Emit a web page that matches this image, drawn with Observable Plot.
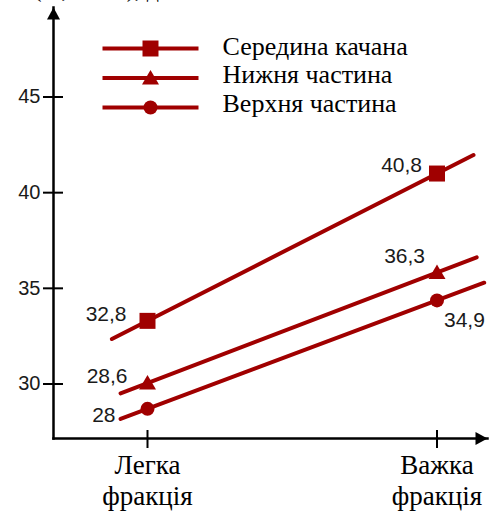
<!DOCTYPE html>
<html>
<head>
<meta charset="utf-8">
<script src="https://cdn.jsdelivr.net/npm/d3@7"></script>
<script src="https://cdn.jsdelivr.net/npm/@observablehq/plot@0.6"></script>
<style>
  body { margin: 0; background: #fff; }
  #chart svg { display: block; }
</style>
</head>
<body>
<div id="chart"></div>
<script>
// ---- data ----
const categories = ["Легка\nфракція", "Важка\nфракція"];
const seriesNames = ["Середина качана", "Нижня частина", "Верхня частина"];
const middleValues = [33.3, 41.0];
const lowerValues = [30.05, 35.83];
const upperValues = [28.7, 34.37];
const middleLabels = ["32,8", "40,8"];
const lowerLabels = ["28,6", "36,3"];
const upperLabels = ["28", "34,9"];
const yTicks = [30, 35, 40, 45];
const axisTitle = "(%, мг/кг), дм";

const seriesValues = [middleValues, lowerValues, upperValues];
const seriesLabels = [middleLabels, lowerLabels, upperLabels];

// ---- style ----
const W = 491, H = 516, color = "#a00000";
const M = {top: 7, right: 4, bottom: 78, left: 53};
const lineExtent = [[-0.123, 1.126], [-0.093, 1.137], [-0.093, 1.163]];
const labelPlacement = [
  [{anchor: "end", dx: -21, dy: -7}, {anchor: "end", dx: -15, dy: -8}],
  [{anchor: "end", dx: -20, dy: -7}, {anchor: "end", dx: -12, dy: -16}],
  [{anchor: "end", dx: -32, dy: 6}, {anchor: "start", dx: 7, dy: 20}]
];
const legendRowY = [48, 77.5, 107];
const legendBaseline = [54, 82, 111];

const symSquare = {draw(c) { c.rect(-8, -8, 16, 16); }};
const symTriangle = {draw(c) { c.moveTo(0, -8); c.lineTo(8.5, 6.5); c.lineTo(-8.5, 6.5); c.closePath(); }};
const symCircle = {draw(c) { c.moveTo(7, 0); c.arc(0, 0, 7, 0, 2 * Math.PI); }};
const symbols = [symSquare, symTriangle, symCircle];
const hLine = {draw(c) { c.moveTo(-48, 0); c.lineTo(48, 0); }};
const arrowUp = {draw(c) { c.moveTo(0, 0); c.lineTo(6.5, 12); c.lineTo(-6.5, 12); c.closePath(); }};

// ---- derived tables ----
const points = [];
const lines = [];
seriesNames.forEach((s, si) => {
  const v = seriesValues[si];
  categories.forEach((c, i) => points.push({series: s, si, i, t: i, v: v[i], label: seriesLabels[si][i]}));
  lineExtent[si].forEach(t => lines.push({series: s, t, v: v[0] + t * (v[1] - v[0])}));
});

const marks = [
  Plot.text([axisTitle], {frameAnchor: "top-left", dx: -20, dy: -11, text: d => d, textAnchor: "start",
    lineAnchor: "bottom", fontFamily: "Liberation Serif", fontSize: 24, fill: "black"}),
  Plot.frame({anchor: "left", stroke: "black", strokeWidth: 2.5}),
  Plot.frame({anchor: "bottom", stroke: "black", strokeWidth: 2.5}),
  Plot.dot([0], {frameAnchor: "top-left", symbol: arrowUp, fill: "black", stroke: null}),
  Plot.dot([0], {frameAnchor: "bottom-right", symbol: arrowUp, rotate: 90, fill: "black", stroke: null}),
  Plot.axisY(yTicks, {tickSize: 10, tickPadding: 3, fontSize: 20, fontFamily: "Liberation Sans",
    strokeWidth: 2, stroke: "black", fill: "#1a1a1a", label: null}),
  Plot.tickY(yTicks, {y: d => d, insetRight: W - M.left - M.right - 10, stroke: "black", strokeWidth: 2}),
  Plot.axisX([0, 1], {tickSize: 10, tickPadding: 3, tickFormat: i => categories[i], fontSize: 27,
    fontFamily: "Liberation Serif", lineHeight: 1.15, strokeWidth: 2, stroke: "black", fill: "black", label: null}),
  Plot.tickX([0, 1], {x: d => d, insetTop: H - M.top - M.bottom - 8, stroke: "black", strokeWidth: 2}),
  Plot.line(lines, {x: "t", y: "v", z: "series", stroke: color, strokeWidth: 4})
];

seriesNames.forEach((s, si) => {
  marks.push(Plot.dot(points.filter(d => d.si === si), {x: "t", y: "v", symbol: symbols[si], fill: color, stroke: null}));
  points.filter(d => d.si === si).forEach(p => {
    const pl = labelPlacement[si][p.i];
    marks.push(Plot.text([p], {x: "t", y: "v", text: "label", textAnchor: pl.anchor, dx: pl.dx, dy: pl.dy,
      fontSize: 21, fontFamily: "Liberation Sans", fill: "#1a1a1a"}));
  });
  // legend
  marks.push(Plot.dot([s], {frameAnchor: "top-left", dx: 97, dy: legendRowY[si] - M.top, symbol: hLine,
    stroke: color, strokeWidth: 4, fill: "none"}));
  marks.push(Plot.dot([s], {frameAnchor: "top-left", dx: 97, dy: legendRowY[si] - M.top, symbol: symbols[si],
    fill: color, stroke: null}));
  marks.push(Plot.text([s], {frameAnchor: "top-left", dx: 169, dy: legendBaseline[si] - M.top, text: d => d,
    textAnchor: "start", lineAnchor: "bottom", fontSize: 26, fontFamily: "Liberation Serif", fill: "black"}));
});

const chart = Plot.plot({
  width: W, height: H,
  marginTop: M.top, marginRight: M.right, marginBottom: M.bottom, marginLeft: M.left,
  style: {background: "white", color: "black", overflow: "hidden"},
  x: {type: "linear", domain: [0, 1], range: [147, 436.5]},
  y: {type: "linear", domain: [30, 45], range: [383.5, 96.5]},
  marks
});
document.getElementById("chart").append(chart);
</script>
</body>
</html>
